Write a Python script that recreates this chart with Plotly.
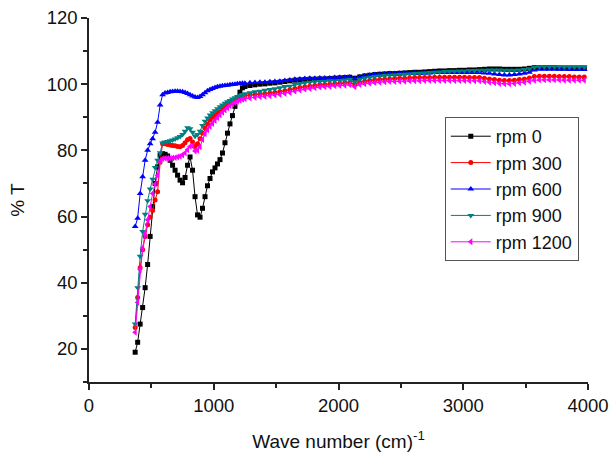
import plotly.graph_objects as go

IMG_WIDTH = 609
IMG_HEIGHT = 459
FONT = 'Arial, Liberation Sans, sans-serif'

WAVE_NUMBER = [370, 390, 410, 430, 450, 470, 490, 510, 530, 550,
               570, 590, 610, 630, 650, 670, 690, 710, 730, 750,
               770, 790, 810, 830, 850, 870, 890, 910, 930, 950,
               970, 990, 1010, 1030, 1050, 1070, 1090, 1110, 1130, 1150,
               1170, 1190, 1210, 1230, 1250,
               1290, 1330, 1370, 1410, 1450, 1490, 1530, 1570, 1610, 1650,
               1690, 1730, 1770, 1810, 1850, 1890, 1930, 1970, 2010, 2050,
               2090, 2130, 2170, 2210, 2250, 2290, 2330, 2370, 2410, 2450,
               2490, 2530, 2570, 2610, 2650, 2690, 2730, 2770, 2810, 2850,
               2890, 2930, 2970, 3010, 3050, 3090, 3130, 3170, 3210, 3250,
               3290, 3330, 3370, 3410, 3450, 3490, 3530, 3570, 3610, 3650,
               3690, 3730, 3770, 3810, 3850, 3890, 3930, 3970]

RPM_0 = [19.0, 22.0, 27.5, 32.5, 38.5, 45.5, 54.0, 63.0, 70.0, 75.0,
         78.5, 79.0, 78.8, 78.3, 77.0, 75.5, 74.0, 72.5, 71.0, 70.2,
         71.8, 75.5, 78.0, 74.0, 66.0, 60.5, 59.8, 62.5, 66.0, 69.3,
         71.5, 73.5, 74.7, 75.9, 77.2, 79.2, 82.3, 85.2, 88.0, 90.5,
         93.3, 95.8, 97.6, 98.9, 99.3,
         99.6, 99.8, 100.0, 100.1, 100.3, 100.4, 100.6, 100.8, 101.0, 101.2,
         101.3, 101.4, 101.5, 101.5, 101.6, 101.6, 101.7, 101.8, 101.9, 102.0,
         102.1, 101.8, 102.2, 102.5, 102.7, 102.9, 103.0, 103.1, 103.2, 103.2,
         103.3, 103.4, 103.5, 103.6, 103.6, 103.7, 103.8, 103.9, 104.0, 104.0,
         104.1, 104.1, 104.2, 104.2, 104.3, 104.3, 104.4, 104.5, 104.6, 104.6,
         104.6, 104.5, 104.5, 104.5, 104.5, 104.6, 104.8, 105.0, 105.0, 105.0,
         105.0, 105.0, 104.9, 104.9, 104.9, 104.9, 104.9, 104.9]

RPM_300 = [26.5, 35.5, 44.5, 50.0, 54.0, 57.5, 59.8, 61.8, 65.0, 67.5,
           76.5, 82.0, 82.0, 81.8, 81.6, 81.5, 81.4, 81.2, 81.1, 81.5,
           82.3, 83.2, 83.6, 82.5, 81.2, 82.0, 83.5, 85.2, 86.7, 88.0,
           89.2, 90.0, 90.7, 91.2, 91.7, 92.4, 93.0, 93.7, 94.3, 94.9,
           95.3, 95.7, 96.0, 96.3, 96.5,
           96.8, 96.9, 97.0, 97.1, 97.3, 97.5, 97.7, 98.0, 98.3, 98.7,
           99.0, 99.2, 99.4, 99.6, 99.8, 99.9, 100.0, 100.1, 100.3, 100.4,
           100.5, 99.9, 100.6, 100.9, 101.1, 101.3, 101.4, 101.5, 101.6, 101.7,
           101.8, 101.8, 101.9, 102.0, 102.0, 102.0, 102.0, 102.1, 102.1, 102.1,
           102.1, 102.1, 102.1, 102.1, 102.0, 102.0, 102.0, 101.8, 101.6, 101.4,
           101.2, 101.1, 101.1, 101.2, 101.4, 101.6, 101.9, 102.3, 102.4, 102.4,
           102.4, 102.4, 102.3, 102.3, 102.3, 102.2, 102.2, 102.2]

RPM_600 = [57.0, 59.5, 67.0, 72.0, 77.0, 80.0, 82.0, 83.5, 85.5, 88.5,
           93.7, 96.8, 97.3, 97.5, 97.7, 97.8, 97.9, 97.9, 97.8, 97.7,
           97.5, 97.2, 96.8, 96.4, 96.1, 96.0, 96.3, 96.8, 97.4, 98.0,
           98.4, 98.7, 99.0, 99.2, 99.4, 99.5, 99.6, 99.7, 99.8, 99.9,
           100.0, 100.1, 100.2, 100.3, 100.3,
           100.4, 100.5, 100.6, 100.6, 100.7, 100.8, 100.9, 101.1, 101.3, 101.5,
           101.6, 101.7, 101.8, 101.8, 101.9, 101.9, 101.9, 102.0, 102.1, 102.1,
           102.2, 101.7, 102.2, 102.5, 102.7, 102.9, 103.0, 103.1, 103.2, 103.2,
           103.3, 103.3, 103.3, 103.4, 103.4, 103.4, 103.4, 103.5, 103.5, 103.5,
           103.5, 103.5, 103.5, 103.5, 103.5, 103.5, 103.5, 103.4, 103.3, 103.1,
           102.9, 102.8, 102.8, 102.9, 103.1, 103.3, 103.6, 104.3, 104.5, 104.5,
           104.5, 104.5, 104.5, 104.5, 104.4, 104.4, 104.4, 104.4]

RPM_900 = [27.5, 38.5, 48.0, 55.5, 60.7, 64.8, 68.3, 71.3, 74.8, 77.0,
           79.3, 82.2, 82.5, 82.7, 82.9, 83.1, 83.4, 83.8, 84.2, 84.8,
           85.8, 86.8, 86.5, 85.5, 84.3, 84.8, 85.8, 87.5, 88.8, 89.8,
           90.7, 91.4, 92.0, 92.6, 93.2, 93.7, 94.2, 94.7, 95.1, 95.5,
           95.9, 96.3, 96.6, 96.9, 97.1,
           97.4, 97.7, 97.9, 98.2, 98.4, 98.6, 98.9, 99.3, 99.4, 99.9,
           100.2, 100.4, 100.6, 100.7, 100.8, 100.9, 101.0, 101.0, 101.1, 101.3,
           101.4, 100.6, 101.5, 101.9, 102.1, 102.3, 102.5, 102.6, 102.7, 102.8,
           102.9, 103.0, 103.1, 103.2, 103.3, 103.4, 103.5, 103.6, 103.7, 103.8,
           103.9, 103.9, 104.0, 104.0, 104.1, 104.1, 104.2, 104.2, 104.3, 104.3,
           104.3, 104.2, 104.2, 104.2, 104.3, 104.4, 104.7, 105.1, 105.3, 105.3,
           105.3, 105.3, 105.3, 105.2, 105.2, 105.2, 105.2, 105.2]

RPM_1200 = [25.0, 34.0, 44.0, 50.5, 54.8, 59.0, 63.0, 67.0, 69.8, 72.5,
            76.6, 77.5, 77.6, 77.6, 77.6, 77.7, 77.8, 78.0, 78.2, 78.6,
            79.2, 80.2, 81.2, 81.3, 79.8, 80.0, 81.1, 83.3, 85.0, 86.2,
            87.2, 88.1, 89.0, 89.9, 90.7, 91.5, 92.2, 92.9, 93.5, 94.0,
            94.4, 94.8, 95.1, 95.4, 95.6,
            95.8, 96.0, 96.2, 96.3, 96.5, 96.7, 96.9, 97.2, 97.5, 97.9,
            98.2, 98.5, 98.7, 98.9, 99.1, 99.2, 99.3, 99.5, 99.6, 99.7,
            99.8, 99.2, 99.9, 100.1, 100.3, 100.5, 100.6, 100.7, 100.8, 100.8,
            100.9, 100.9, 101.0, 101.0, 101.0, 101.1, 101.1, 101.1, 101.1, 101.1,
            101.1, 101.1, 101.1, 101.1, 101.0, 101.0, 101.0, 100.8, 100.6, 100.4,
            100.2, 100.1, 100.1, 100.2, 100.4, 100.6, 100.9, 101.2, 101.3, 101.3,
            101.3, 101.3, 101.3, 101.2, 101.2, 101.2, 101.2, 101.2]

SERIES_NAMES = ['rpm 0', 'rpm 300', 'rpm 600', 'rpm 900', 'rpm 1200']
SERIES_COLORS = ['#000000', '#ff0000', '#0000ff', '#008080', '#ff00ff']
SERIES_SYMBOLS = ['square', 'circle', 'triangle-up', 'triangle-down', 'triangle-left']
SERIES_VALUES = [RPM_0, RPM_300, RPM_600, RPM_900, RPM_1200]

# drop the page's default body margin so the figure fills the window
NO_PAGE_MARGIN = "document.body.style.margin = '0'; document.body.style.overflow = 'hidden';"


def add_series(fig, name, values, color, symbol):
    size = 5 if symbol in ('square', 'circle') else 6
    fig.add_trace(go.Scatter(
        x=WAVE_NUMBER, y=values, name=name, mode='lines+markers',
        line=dict(color=color, width=1),
        marker=dict(color=color, symbol=symbol, size=size, line=dict(width=0))))


def build_chart():
    fig = go.Figure()
    for name, values, color, symbol in zip(SERIES_NAMES, SERIES_VALUES,
                                           SERIES_COLORS, SERIES_SYMBOLS):
        add_series(fig, name, values, color, symbol)

    axis_style = dict(showline=True, linecolor='#222', linewidth=1.5,
                      ticks='outside', ticklen=6, tickwidth=1.5, tickcolor='#222',
                      showgrid=False, zeroline=False, mirror=False,
                      automargin=False, ticklabeloverflow='allow',
                      tickfont=dict(size=18.5, color='#111'))

    fig.update_xaxes(range=[0, 4000], tickvals=[0, 1000, 2000, 3000, 4000],
                     minor=dict(tickvals=[500, 1500, 2500, 3500], ticklen=4,
                                tickwidth=1.5, tickcolor='#222', ticks='outside'),
                     title=dict(text='Wave number (cm)<sup>-1</sup>',
                                font=dict(size=19, color='#111'), standoff=20),
                     **axis_style)
    fig.update_yaxes(range=[10, 120], tickvals=[20, 40, 60, 80, 100, 120],
                     minor=dict(tickvals=[10, 30, 50, 70, 90, 110], ticklen=4,
                                tickwidth=1.5, tickcolor='#222', ticks='outside'),
                     title=dict(text='% T', font=dict(size=19, color='#111'),
                                standoff=17),
                     **axis_style)

    fig.update_layout(
        width=IMG_WIDTH, height=IMG_HEIGHT,
        margin=dict(l=89, r=21, t=18, b=77),
        paper_bgcolor='white', plot_bgcolor='white',
        font=dict(family=FONT, color='#111'),
        showlegend=True,
        legend=dict(x=0.713, y=0.728, xanchor='left', yanchor='top',
                    bgcolor='white', bordercolor='#555', borderwidth=1,
                    font=dict(size=18), tracegroupgap=0, itemwidth=40))
    return fig


def main():
    fig = build_chart()
    fig.write_html('out.html', post_script=NO_PAGE_MARGIN,
                   config={'displayModeBar': False})


if __name__ == '__main__':
    main()
